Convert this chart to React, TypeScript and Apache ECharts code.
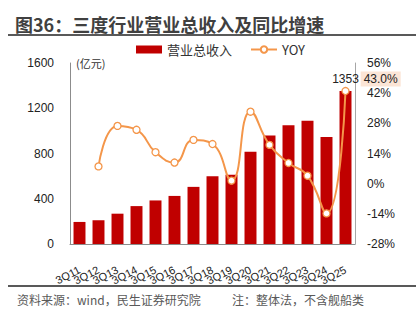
import React, { useEffect, useRef } from "react";
import * as echarts from "echarts";

const categories = ["3Q11", "3Q12", "3Q13", "3Q14", "3Q15", "3Q16", "3Q17", "3Q18", "3Q19", "3Q20", "3Q21", "3Q22", "3Q23", "3Q24", "3Q25"];
const revenue = [195, 210, 268, 335, 385, 425, 505, 600, 612, 815, 960, 1050, 1090, 945, 1353];
const yoy: (number | null)[] = [null, 8.0, 26.8, 25.0, 14.6, 9.8, 20.3, 18.4, 1.4, 33.4, 18.0, 9.6, 3.7, -13.8, 43.0];
const leftTicks = { min: 0, max: 1600, interval: 400 };
const rightTicks = { min: -28, max: 56, interval: 14 };

const FONT = "'Liberation Sans', 'Noto Sans CJK SC', sans-serif";
const CJK = "'Noto Sans CJK SC', 'Liberation Sans', sans-serif";
const RED = "#C00000";
const ORANGE = "#F4964A";

export default function App() {
  const ref = useRef<HTMLDivElement>(null);
  useEffect(() => {
    if (!ref.current) return;
    const chart = echarts.init(ref.current, null, { renderer: "svg" });
    const last = revenue.length - 1;
    chart.setOption({
      animation: false,
      backgroundColor: "#ffffff",
      title: {
        text: "图36：三度行业营业总收入及同比增速",
        left: 15,
        top: 15,
        padding: 0,
        textStyle: { fontFamily: CJK, fontSize: 18, fontWeight: "bold", color: "#404040" },
      },
      legend: {
        top: 43,
        left: 136,
        padding: 0,
        itemWidth: 26,
        itemHeight: 8,
        itemGap: 18,
        textStyle: { fontFamily: CJK, fontSize: 13, color: "#333" },
        data: [
          { name: "营业总收入", icon: "rect" },
          { name: "YOY" },
        ],
      },
      grid: { left: 70, right: 61, top: 63, bottom: 81 },
      xAxis: {
        type: "category",
        data: categories,
        axisLine: { lineStyle: { color: "#8c8c8c", width: 1 } },
        axisTick: { show: false },
        axisLabel: { rotate: 27, fontFamily: FONT, fontSize: 11, color: "#222", margin: 25, interval: 0 },
      },
      yAxis: [
        {
          type: "value",
          ...leftTicks,
          name: "(亿元)",
          nameLocation: "end",
          nameGap: 0,
          nameTextStyle: { fontFamily: CJK, fontSize: 11, color: "#333", align: "left", verticalAlign: "middle", padding: [0, 0, 0, 6] },
          axisLine: { show: true, lineStyle: { color: "#8c8c8c" } },
          axisTick: { show: false },
          splitLine: { show: false },
          axisLabel: { fontFamily: FONT, fontSize: 12, color: "#222", margin: 16, formatter: (v: number) => String(v) },
        },
        {
          type: "value",
          ...rightTicks,
          axisLine: { show: true, lineStyle: { color: "#a6a6a6" } },
          axisTick: { show: false },
          splitLine: { show: false },
          axisLabel: { fontFamily: FONT, fontSize: 12, color: "#222", margin: 12, formatter: "{value}%" },
        },
      ],
      series: [
        {
          name: "营业总收入",
          type: "bar",
          barWidth: "63%",
          itemStyle: { color: RED },
          data: revenue.map((v, i) =>
            i === last
              ? { value: v, label: { show: true, position: "top", distance: 6, fontFamily: FONT, fontSize: 12, color: "#222" } }
              : v
          ),
        },
        {
          name: "YOY",
          type: "line",
          yAxisIndex: 1,
          smooth: 0.5,
          connectNulls: false,
          symbol: "circle",
          symbolSize: 7,
          lineStyle: { color: ORANGE, width: 2 },
          itemStyle: { color: "#ffffff", borderColor: ORANGE, borderWidth: 1.3 },
          data: yoy.map((v, i) =>
            i === last
              ? {
                  value: v,
                  label: {
                    show: true,
                    position: "right",
                    distance: 11,
                    offset: [0, -12],
                    formatter: (p: any) => `${Number(p.value).toFixed(1)}%`,
                    fontFamily: FONT,
                    fontSize: 12,
                    color: "#222",
                    backgroundColor: "#FBE5D6",
                    padding: [2, 3, 1, 3],
                  },
                }
              : v
          ),
        },
      ],
      graphic: [
        { type: "line", shape: { x1: 8, y1: 35, x2: 416, y2: 35 }, style: { stroke: "#595959", lineWidth: 2 } },
        { type: "line", shape: { x1: 8, y1: 286, x2: 416, y2: 286 }, style: { stroke: "#595959", lineWidth: 2 } },
        {
          type: "text",
          left: 17,
          top: 293,
          style: { text: "资料来源：wind，民生证券研究院", font: `12px ${CJK}`, fill: "#595959" },
        },
        {
          type: "text",
          left: 232,
          top: 293,
          style: { text: "注：整体法，不含舰船类", font: `12px ${CJK}`, fill: "#595959" },
        },
      ],
    });
    return () => chart.dispose();
  }, []);
  return <div ref={ref} style={{ position: "absolute", left: 0, top: 0, width: 416, height: 325 }} />;
}
